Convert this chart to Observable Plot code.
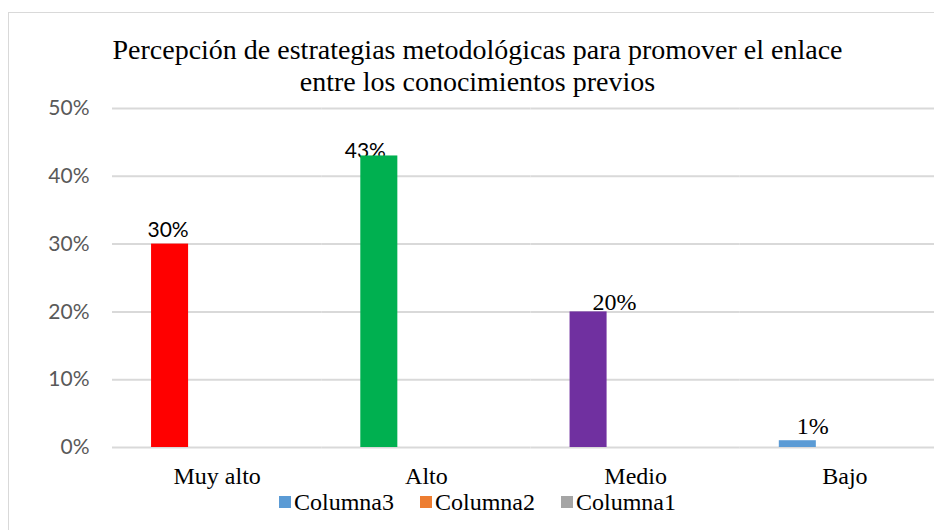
<!DOCTYPE html>
<html>
<head>
<meta charset="utf-8">
<script src="https://cdn.jsdelivr.net/npm/d3@7"></script>
<script src="https://cdn.jsdelivr.net/npm/@observablehq/plot@0.6"></script>
<style>
  html, body { margin: 0; padding: 0; background: #fff; overflow: hidden; width: 934px; height: 530px; }
  #frame { position: absolute; left: 8px; top: 12px; width: 939px; height: 600px; border: 1.5px solid #d9d9d9; box-sizing: border-box; }
  #title { position: absolute; left: 8px; top: 34px; width: 939px; text-align: center; font-family: "Liberation Serif", "Times New Roman", serif; font-size: 28px; line-height: 32px; color: #000; }
  #chart { position: absolute; left: 0; top: 0; width: 960px; height: 530px; }
  #chart svg { max-width: none !important; width: 960px; height: 530px; }
  #legend { position: absolute; left: 8px; top: 490px; width: 939px; height: 24px; display: flex; justify-content: center; align-items: center; font-family: "Liberation Serif", "Times New Roman", serif; font-size: 24px; line-height: 24px; color: #000; }
  .item { display: flex; align-items: center; margin: 0 13px; }
  .sw { width: 12px; height: 12px; margin-right: 3px; }
</style>
</head>
<body>
<div id="frame"></div>
<div id="title">Percepción de estrategias metodológicas para promover el enlace<br>entre los conocimientos previos</div>
<div id="chart"></div>
<div id="legend"></div>
<script>
// ---- data ----
const categories = ["Muy alto", "Alto", "Medio", "Bajo"];
const values = [0.30, 0.43, 0.20, 0.01];
const valueLabels = ["30%", "43%", "20%", "1%"];
const barColors = ["#FF0000", "#00B050", "#7030A0", "#5B9BD5"];
const seriesNames = ["Columna3", "Columna2", "Columna1"];
const seriesColors = ["#5B9BD5", "#ED7D31", "#A5A5A5"];
const yTicks = [0, 0.1, 0.2, 0.3, 0.4, 0.5];

const data = categories.map((c, i) => ({
  category: c, series: seriesNames[0], value: values[i], color: barColors[i], label: valueLabels[i]
}));

// label styling (Excel manually placed labels)
const labelStyle = {
  "Muy alto": {font: "Lato, sans-serif", size: 21, dx: -2, dy: -7},
  "Alto": {font: "Lato, sans-serif", size: 21, dx: -14, dy: 2},
  "Medio": {font: "Liberation Serif, serif", size: 24, dx: 26, dy: -2},
  "Bajo": {font: "Liberation Serif, serif", size: 24, dx: 15, dy: -7}
};

const labelMarks = categories.map(c => {
  const s = labelStyle[c];
  return Plot.text(data.filter(d => d.category === c), {
    fx: "category", x: "series", y: "value", text: "label",
    textAnchor: "middle", lineAnchor: "bottom",
    dx: s.dx, dy: s.dy, fontFamily: s.font, fontSize: s.size, fill: "#000"
  });
});

const chart = Plot.plot({
  width: 960,
  height: 530,
  marginLeft: 112,
  marginRight: 11,
  marginTop: 108,
  marginBottom: 83,
  style: {background: "transparent", overflow: "visible"},
  fx: {domain: categories, padding: 0, round: false, label: null, axis: null},
  x: {domain: seriesNames, paddingInner: 0.213, paddingOuter: 0.83, round: false, axis: null},
  y: {domain: [0, 0.5], label: null},
  marks: [
    Plot.gridY(yTicks, {stroke: "#d9d9d9", strokeOpacity: 1, strokeWidth: 2}),
    Plot.axisY(yTicks, {
      tickSize: 0, tickPadding: 23, tickFormat: d3.format(".0%"), label: null,
      fill: "#595959", fontFamily: "Lato, sans-serif", fontSize: 21
    }),
    Plot.axisFx({
      anchor: "bottom", tickSize: 0, tickPadding: 19, label: null,
      fill: "#000", fontFamily: "Liberation Serif, serif", fontSize: 24
    }),
    ...labelMarks,
    Plot.barY(data, {fx: "category", x: "series", y: "value", fill: "color"})
  ]
});
document.getElementById("chart").appendChild(chart);

// legend
const legend = document.getElementById("legend");
seriesNames.forEach((name, i) => {
  const item = document.createElement("div");
  item.className = "item";
  const sw = document.createElement("div");
  sw.className = "sw";
  sw.style.background = seriesColors[i];
  const t = document.createElement("span");
  t.textContent = name;
  item.appendChild(sw);
  item.appendChild(t);
  legend.appendChild(item);
});
</script>
</body>
</html>
